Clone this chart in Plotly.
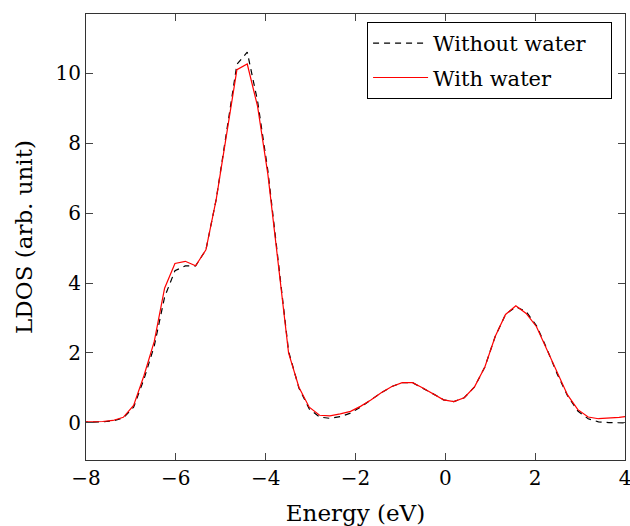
import plotly.graph_objects as go

energy = [-8.09, -7.86, -7.63, -7.40, -7.17, -6.94, -6.71, -6.48, -6.25, -6.02,
          -5.79, -5.56, -5.33, -5.10, -4.87, -4.64, -4.41, -4.18, -3.95, -3.72,
          -3.49, -3.26, -3.03, -2.80, -2.57, -2.34, -2.11, -1.88, -1.65, -1.42,
          -1.19, -0.96, -0.73, -0.50, -0.27, -0.04, 0.19, 0.42, 0.65, 0.88,
          1.11, 1.34, 1.57, 1.80, 2.03, 2.26, 2.49, 2.72, 2.95, 3.18,
          3.41, 3.64, 3.87, 4.10]

with_water = [0.03, 0.03, 0.04, 0.07, 0.16, 0.50, 1.35, 2.33, 3.85, 4.56,
              4.62, 4.49, 4.95, 6.40, 8.30, 10.10, 10.26, 9.05, 7.10, 4.60,
              2.00, 1.02, 0.45, 0.22, 0.20, 0.26, 0.33, 0.48, 0.66, 0.87,
              1.04, 1.15, 1.15, 1.00, 0.83, 0.66, 0.61, 0.72, 1.03, 1.60,
              2.47, 3.10, 3.35, 3.13, 2.75, 2.10, 1.40, 0.80, 0.38, 0.17,
              0.12, 0.13, 0.16, 0.19]

without_water = [0.02, 0.02, 0.03, 0.06, 0.14, 0.45, 1.25, 2.20, 3.60, 4.35,
                 4.49, 4.49, 4.95, 6.40, 8.30, 10.25, 10.60, 9.20, 7.20, 4.65,
                 2.05, 1.00, 0.40, 0.17, 0.13, 0.18, 0.28, 0.46, 0.66, 0.87,
                 1.04, 1.15, 1.15, 1.00, 0.83, 0.66, 0.61, 0.72, 1.03, 1.60,
                 2.47, 3.10, 3.32, 3.18, 2.78, 2.12, 1.40, 0.78, 0.34, 0.12,
                 0.03, 0.01, 0.00, 0.00]

x_ticks = [-8, -6, -4, -2, 0, 2, 4]
y_ticks = [0, 2, 4, 6, 8, 10]
series_names = ["Without water", "With water"]

FONT = "DejaVu Serif"
PAD = "\u00a0" * 3

fig = go.Figure()
fig.add_trace(go.Scatter(x=energy, y=without_water, mode="lines",
                         name=series_names[0] + PAD, legendgroup="a",
                         line=dict(color="black", width=1.2, dash="6px,5px")))
fig.add_trace(go.Scatter(x=energy, y=with_water, mode="lines",
                         name=series_names[1], legendgroup="b",
                         line=dict(color="red", width=1.2)))

axis_common = dict(showgrid=False, zeroline=False, showline=True, mirror="allticks",
                   linecolor="#333", linewidth=1.2, ticks="inside", ticklen=7,
                   tickwidth=1, tickcolor="#444", automargin=False,
                   ticklabeloverflow="allow",
                   tickfont=dict(family=FONT, size=20, color="black"))

fig.update_xaxes(range=[-8, 4], tickvals=x_ticks,
                 title=dict(text="Energy (eV)", font=dict(family=FONT, size=23, color="black"),
                            standoff=16),
                 **axis_common)
fig.update_yaxes(range=[-1.06, 11.69], tickvals=y_ticks,
                 title=dict(text="LDOS (arb. unit)", font=dict(family=FONT, size=23, color="black"),
                            standoff=16),
                 **axis_common)

fig.update_layout(
    width=630, height=526,
    margin=dict(l=86, r=5, t=14, b=66),
    paper_bgcolor="white", plot_bgcolor="white",
    showlegend=True,
    legend=dict(x=0.976, xanchor="right", y=0.982, yanchor="top",
                bgcolor="white", bordercolor="black", borderwidth=1,
                font=dict(family=FONT, size=21, color="black"),
                itemwidth=55, tracegroupgap=4),
)

fig.write_html("out.html")
